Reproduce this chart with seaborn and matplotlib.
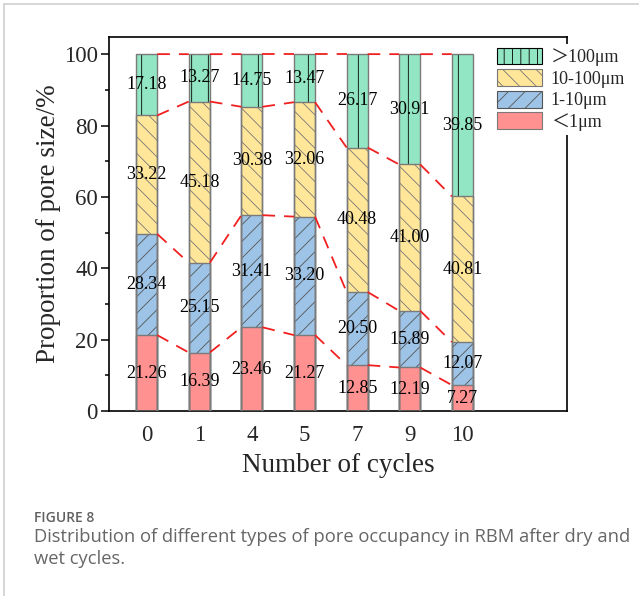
import matplotlib
matplotlib.use("Agg")
import matplotlib.pyplot as plt
import seaborn as sns
import numpy as np
import pandas as pd
from matplotlib.patches import Patch
from matplotlib.lines import Line2D

# ---------------- data ----------------
cycles = ["0", "1", "4", "5", "7", "9", "10"]
lt1 = [21.26, 16.39, 23.46, 21.27, 12.85, 12.19, 7.27]
r1_10 = [28.34, 25.15, 31.41, 33.20, 20.50, 15.89, 12.07]
r10_100 = [33.22, 45.18, 30.38, 32.06, 40.48, 41.00, 40.81]
gt100 = [17.18, 13.27, 14.75, 13.47, 26.17, 30.91, 39.85]
series_names = ["<1μm", "1-10μm", "10-100μm", "＞100μm"]
legend_labels = ["＞100μm", "10-100μm", "1-10μm", "＜1μm"]
yticks = [0, 20, 40, 60, 80, 100]

colors = ["#FF9191", "#9DC3E6", "#FFE699", "#92E6C3"]
hatches = ["", "//", "\\\\", "|"]
hatch_cols = ["#FF9191", "#555555", "#777777", "#000000"]

sns.set_theme(style="white")
plt.rcParams["font.family"] = ["Liberation Serif", "Noto Sans CJK JP", "DejaVu Sans"]
plt.rcParams["hatch.linewidth"] = 0.6

fig = plt.figure(figsize=(6.39, 5.96), dpi=100)
ax = fig.add_axes([109 / 639, 1 - 411 / 596, (567 - 109) / 639, (411 - 37) / 596])

layers = [lt1, r1_10, r10_100, gt100]
cum = np.cumsum(np.array(layers), axis=0)  # shape (4, n)
df = pd.DataFrame({"cycle": cycles})
for i in range(4):
    df[f"c{i}"] = cum[i]

W = 0.4
# draw from top layer down so lower layers cover upper
for i in [3, 2, 1, 0]:
    sns.barplot(data=df, x="cycle", y=f"c{i}", order=cycles, color=colors[i],
                saturation=1, width=W, hatch=hatches[i], edgecolor=hatch_cols[i],
                linewidth=0, ax=ax, zorder=2)
# outlines
for i in [3, 2, 1, 0]:
    sns.barplot(data=df, x="cycle", y=f"c{i}", order=cycles, facecolor="none",
                width=W, edgecolor="#7a7a7a", linewidth=1.0, ax=ax, zorder=3)

# dashed connectors between adjacent bars
xs = np.arange(len(cycles))
for i in range(4):
    for j in range(len(cycles) - 1):
        ax.plot([xs[j] + W / 2, xs[j + 1] - W / 2], [cum[i][j], cum[i][j + 1]],
                color="#F02020", lw=1.3, ls=(0, (7, 5)), zorder=4)

# value labels
for i in range(4):
    bottoms = cum[i] - np.array(layers[i])
    for j in range(len(cycles)):
        ax.text(xs[j], bottoms[j] + layers[i][j] / 2, f"{layers[i][j]:.2f}",
                ha="center", va="center", fontsize=13, color="black", zorder=5)

ax.set_xlim(-0.717, 7.99)
ax.set_ylim(0, 104.8)
ax.set_yticks(yticks)
ax.set_yticks([10, 30, 50, 70, 90], minor=True)
ax.tick_params(axis="y", which="major", direction="out", length=6, width=1.1,
               left=True, labelsize=16.5, pad=2, color="black")
ax.tick_params(axis="y", which="minor", direction="out", length=3, width=1.1,
               left=True, color="black")
ax.tick_params(axis="x", length=0, labelsize=16.5, pad=10)
for s in ax.spines.values():
    s.set_color("black")
    s.set_linewidth(1.2)
ax.set_xlabel("Number of cycles", fontsize=19.5, labelpad=5)
ax.set_ylabel("Proportion of pore size/%", fontsize=19.5, labelpad=2)

handles = [Patch(facecolor=colors[i], hatch=hatches[i] if i != 3 else "||",
                 edgecolor=hatch_cols[i] if i else "#7a7a7a", linewidth=0.8)
           for i in [3, 2, 1, 0]]
leg = ax.legend(handles, legend_labels, loc="upper left",
                bbox_to_anchor=(493 / 639, 1 - 44 / 596), bbox_transform=fig.transFigure,
                frameon=True, facecolor="white", edgecolor="none", framealpha=1,
                fontsize=13, handlelength=2.5, handleheight=1.05, labelspacing=0.17,
                handletextpad=0.5, borderpad=0.2, borderaxespad=0)
leg.set_zorder(6)

# card border
fig.add_artist(Line2D([4 / 639, 4 / 639], [0, 1 - 4 / 596], color="#cfcfcf", lw=1.2))
fig.add_artist(Line2D([4 / 639, 1], [1 - 4 / 596, 1 - 4 / 596], color="#cfcfcf", lw=1.2))

cap_font = ["Open Sans", "DejaVu Sans"]
fig.text(34 / 639, 1 - 518 / 596, "FIGURE 8", fontsize=10, color="#606060",
         family=cap_font, va="center", ha="left", weight="semibold")
fig.text(34 / 639, 1 - 537 / 596,
         "Distribution of different types of pore occupancy in RBM after dry and",
         fontsize=13.2, color="#666666", family=cap_font, va="center", ha="left")
fig.text(34 / 639, 1 - 559 / 596, "wet cycles.", fontsize=13.2, color="#666666",
         family=cap_font, va="center", ha="left")

fig.savefig("out.png", dpi=100)
